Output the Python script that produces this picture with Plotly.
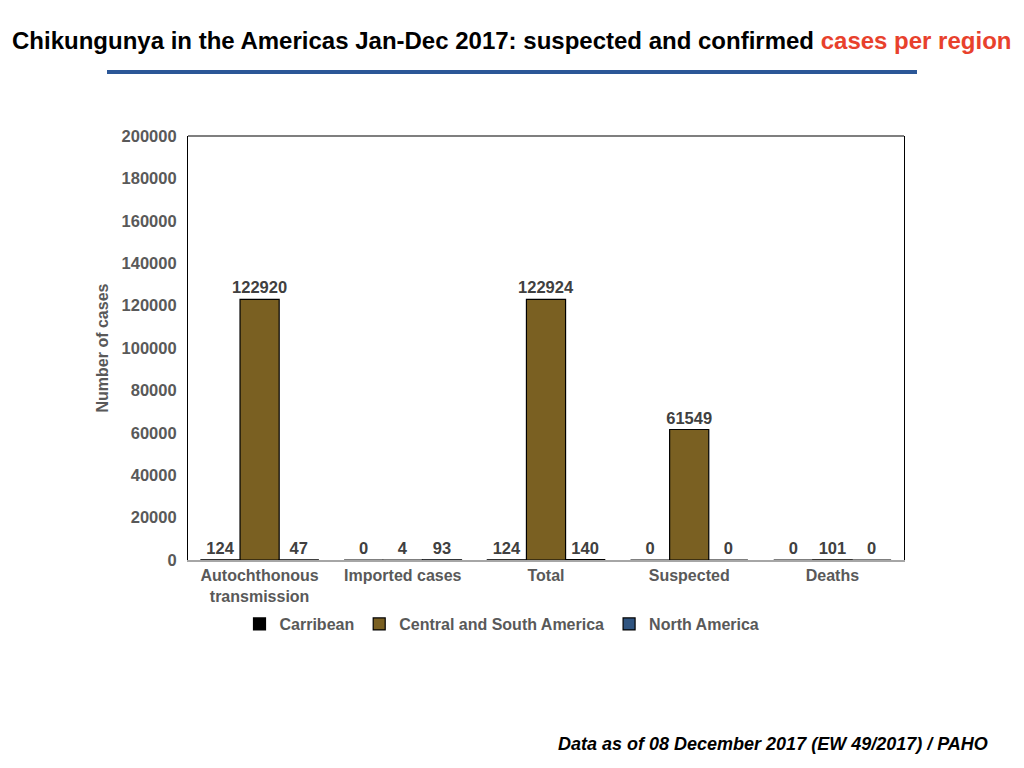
import plotly.graph_objects as go

## Chart data
categories = ["Autochthonous<br>transmission", "Imported cases", "Total", "Suspected", "Deaths"]
regions = ["Carribean", "Central and South America", "North America"]
carribean = [124, 0, 124, 0, 0]
central_south = [122920, 4, 122924, 61549, 101]
north_america = [47, 93, 140, 0, 0]
colors = ["#000000", "#7a6022", "#2f5480"]

## page has an 8px body margin, so work in figure pixels
W, H = 1008, 752
L, R, T, B = 180, 896, 128, 552


def px(x):
    return (x - 8 - L) / (R - L)


def py(y):
    return (B - (y - 8)) / (B - T)


fig = go.Figure()
for name, vals, col in zip(regions, [carribean, central_south, north_america], colors):
    fig.add_trace(go.Bar(
        x=categories, y=vals, name=name,
        marker=dict(color=col, line=dict(color="#000000", width=1.2)),
        texttemplate="%{y}", textposition="outside", constraintext="none",
        textfont=dict(size=16.5, color="#404040", family="Liberation Sans", weight="bold"),
        cliponaxis=False,
    ))

fig.update_layout(
    width=W, height=H,
    barmode="group", bargap=0.18, bargroupgap=0,
    paper_bgcolor="white", plot_bgcolor="white",
    margin=dict(l=L, r=W - R, t=T, b=H - B, autoexpand=False),
    font=dict(family="Liberation Sans", size=16, color="#595959"),
    showlegend=True,
    legend=dict(orientation="h", x=px(502), y=py(624), xanchor="center", yanchor="middle",
                bgcolor="rgba(0,0,0,0)",
                font=dict(size=16, color="#595959", weight="bold"),
                itemwidth=30, traceorder="normal"),
)

fig.update_yaxes(
    range=[0, 200000], dtick=20000, showgrid=False, zeroline=False,
    showline=True, linecolor="#000000", linewidth=1.2, mirror=True,
    ticks="", ticklabelstandoff=7,
    tickfont=dict(size=16.5, color="#595959", weight="bold"), tickformat="d",
    title=dict(text="Number of cases", font=dict(size=16, color="#595959", weight="bold"), standoff=8),
)
fig.update_xaxes(
    showgrid=False, showline=True, linecolor="#a6a6a6", linewidth=1.5, ticks="",
    tickfont=dict(size=16, color="#595959", weight="bold"),
)

# top frame line
fig.add_shape(type="line", xref="x domain", yref="y domain", x0=0, x1=1, y0=1, y1=1,
              line=dict(color="#000000", width=1.2))

# title and rule
fig.add_annotation(
    text="<b>Chikungunya in the Americas Jan-Dec 2017: suspected and confirmed "
         "<span style='color:#e8412c'>cases per region</span></b>",
    xref="paper", yref="paper", x=px(511), y=py(40),
    xanchor="center", yanchor="middle", showarrow=False,
    font=dict(family="Liberation Sans", size=24, color="#000000"),
)
fig.add_shape(type="line", xref="paper", yref="paper",
              x0=px(107), x1=px(917), y0=py(72), y1=py(72),
              line=dict(color="#2b5797", width=4))

# footnote
fig.add_annotation(
    text="<b><i>Data as of 08 December 2017 (EW 49/2017) / PAHO</i></b>",
    xref="paper", yref="paper", x=px(990), y=py(744),
    xanchor="right", yanchor="middle", showarrow=False,
    font=dict(family="Liberation Sans", size=18, color="#000000"),
)

fig.write_html("out.html")
